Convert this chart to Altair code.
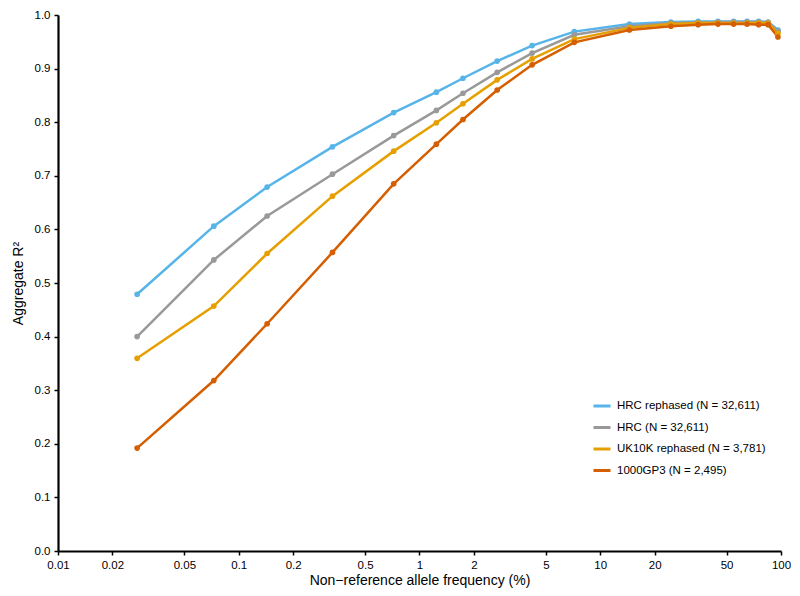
import altair as alt
import pandas as pd

freq = [0.0274, 0.0728, 0.1436, 0.33, 0.72, 1.24, 1.74, 2.69, 4.2, 7.19,
        14.5, 24.6, 34.8, 44.8, 54.7, 64.9, 75.2, 84.8, 96.2]
hrc_rephased = [0.479, 0.606, 0.679, 0.754, 0.818, 0.856, 0.882, 0.914, 0.943, 0.969,
                0.983, 0.987, 0.988, 0.988, 0.988, 0.988, 0.988, 0.987, 0.972]
hrc = [0.400, 0.543, 0.625, 0.703, 0.775, 0.822, 0.854, 0.893, 0.929, 0.963,
       0.979, 0.985, 0.986, 0.987, 0.987, 0.987, 0.987, 0.986, 0.970]
uk10k_rephased = [0.3595, 0.457, 0.555, 0.662, 0.746, 0.799, 0.8345, 0.879, 0.918, 0.955,
                  0.976, 0.983, 0.985, 0.985, 0.985, 0.985, 0.985, 0.985, 0.966]
g1000p3 = [0.192, 0.318, 0.424, 0.557, 0.685, 0.759, 0.805, 0.860, 0.907, 0.949,
           0.972, 0.979, 0.982, 0.983, 0.983, 0.983, 0.982, 0.982, 0.959]

series_names = ["HRC rephased (N = 32,611)", "HRC (N = 32,611)",
                "UK10K rephased (N = 3,781)", "1000GP3 (N = 2,495)"]
series_values = [hrc_rephased, hrc, uk10k_rephased, g1000p3]
colors = ["#56B4E9", "#999999", "#E69F00", "#D55E00"]

x_ticks = [0.01, 0.02, 0.05, 0.1, 0.2, 0.5, 1, 2, 5, 10, 20, 50, 100]
y_ticks = [0.0, 0.1, 0.2, 0.3, 0.4, 0.5, 0.6, 0.7, 0.8, 0.9, 1.0]

rows = []
for i, (name, vals) in enumerate(zip(series_names, series_values)):
    for f, v in zip(freq, vals):
        rows.append({"freq": f, "r2": v, "series": name, "order": i})
df = pd.DataFrame(rows)

FONT = "Liberation Sans"

x = alt.X("freq:Q",
          scale=alt.Scale(type="log", domain=[0.01, 100], nice=False),
          axis=alt.Axis(values=x_ticks, format="~g",
                        title="Non\u2212reference allele frequency (%)",
                        titlePadding=3, labelPadding=4, labelFlush=False))
y = alt.Y("r2:Q",
          scale=alt.Scale(domain=[0, 1], nice=False),
          axis=alt.Axis(values=y_ticks, format=".1f", title="Aggregate R\u00b2",
                        titlePadding=9, labelPadding=4))
color = alt.Color("series:N",
                  scale=alt.Scale(domain=series_names, range=colors),
                  legend=alt.Legend(title=None, orient="none", legendX=534, legendY=381,
                                    symbolType="stroke", symbolSize=289,
                                    symbolStrokeWidth=3, rowPadding=5.5,
                                    labelFontSize=11.5, labelOffset=5,
                                    labelFont=FONT, labelColor="#000000"))

base = alt.Chart(df)
lines = base.mark_line(strokeWidth=2.5).encode(x=x, y=y, color=color,
                                               order=alt.Order("freq:Q"))
points = base.mark_circle(size=32, opacity=1).encode(x=x, y=y, color=alt.Color("series:N",
                  scale=alt.Scale(domain=series_names, range=colors), legend=None),
                  order=alt.Order("order:Q"))

chart = alt.layer(lines, points).properties(
    width=723, height=536,
    autosize=alt.AutoSizeParams(type="none"),
    padding={"left": 50, "top": 7, "right": 10, "bottom": 37},
).configure_view(stroke=None).configure_axis(
    grid=False, domainColor="#000000", domainWidth=2.2, tickColor="#000000",
    tickWidth=1.5, tickSize=4, labelFont=FONT, labelFontSize=11.5,
    labelColor="#000000", titleFont=FONT, titleFontSize=14,
    titleFontWeight="normal", titleColor="#000000"
)

chart.save("out.html", embed_options={"renderer": "svg", "actions": False})
